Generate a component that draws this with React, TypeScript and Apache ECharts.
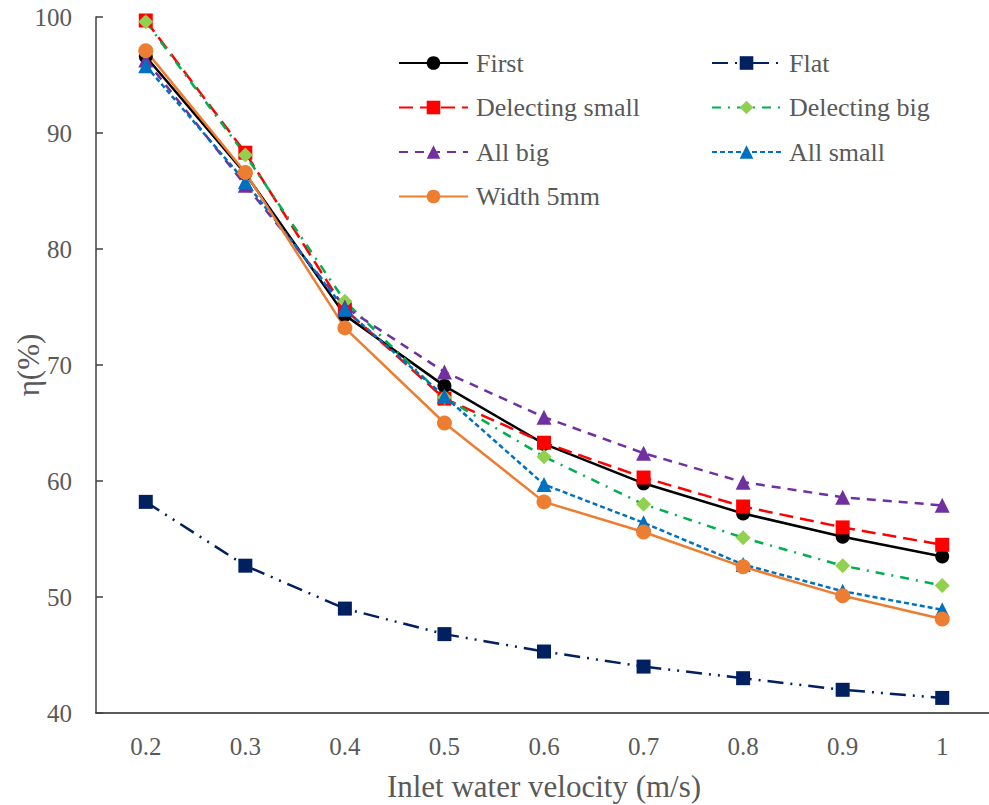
import React, { useEffect, useRef } from "react";
import * as echarts from "echarts";

const categories = ["0.2", "0.3", "0.4", "0.5", "0.6", "0.7", "0.8", "0.9", "1"];
const yTicks = [40, 50, 60, 70, 80, 90, 100];

const first = [96.6, 86.5, 74.3, 68.2, 63.2, 59.8, 57.2, 55.2, 53.5];
const flat = [58.2, 52.7, 49.0, 46.8, 45.3, 44.0, 43.0, 42.0, 41.3];
const delectingSmall = [99.7, 88.3, 74.8, 67.1, 63.3, 60.3, 57.8, 56.0, 54.5];
const delectingBig = [99.6, 88.1, 75.5, 67.2, 62.1, 58.0, 55.1, 52.7, 51.0];
const allBig = [96.3, 85.5, 75.0, 69.4, 65.5, 62.4, 59.9, 58.6, 57.9];
const allSmall = [95.8, 85.8, 74.8, 67.3, 59.7, 56.4, 52.8, 50.5, 48.9];
const width5mm = [97.1, 86.6, 73.2, 65.0, 58.2, 55.6, 52.6, 50.1, 48.1];

const FONT = "'Liberation Serif', 'Times New Roman', serif";
const TEXT = "#595959";

export default function App() {
  const ref = useRef<HTMLDivElement>(null);
  useEffect(() => {
    if (!ref.current) return;
    const chart = echarts.init(ref.current, undefined, { renderer: "svg" });
    const mk = (
      name: string,
      data: number[],
      color: string,
      markerColor: string,
      symbol: string,
      size: number,
      type: any
    ) => ({
      name,
      type: "line",
      data,
      symbol,
      symbolSize: size,
      showSymbol: true,
      lineStyle: { color, width: 2.5, type, cap: "butt" },
      itemStyle: { color: markerColor, borderWidth: 0 },
      emphasis: { disabled: true },
    });
    const legendText = { fontFamily: FONT, fontSize: 26, color: TEXT, lineHeight: 26, padding: [0, 0, 0, 3] };
    chart.setOption({
      animation: false,
      backgroundColor: "#ffffff",
      textStyle: { fontFamily: FONT },
      grid: { left: 96, top: 17, width: 896, height: 696, containLabel: false, outerBoundsMode: "none" },
      legend: [
        {
          data: ["First", "Delecting small", "All big", "Width 5mm"],
          orient: "vertical",
          left: 393,
          top: 45,
          padding: 5,
          itemWidth: 69,
          itemHeight: 17,
          itemGap: 18.5,
          textStyle: legendText,
          selectedMode: false,
        },
        {
          data: ["Flat", "Delecting big", "All small"],
          orient: "vertical",
          left: 706,
          top: 45,
          padding: 5,
          itemWidth: 69,
          itemHeight: 17,
          itemGap: 18.5,
          textStyle: legendText,
          selectedMode: false,
        },
      ],
      xAxis: {
        type: "category",
        data: categories,
        boundaryGap: true,
        name: "Inlet water velocity (m/s)",
        nameLocation: "middle",
        nameGap: 58,
        nameMoveOverlap: false,
        nameTextStyle: { fontFamily: FONT, fontSize: 31, color: TEXT },
        axisLine: { lineStyle: { color: "#262626", width: 1.5 } },
        axisTick: { inside: true, length: 7, lineStyle: { color: "#262626", width: 1.5 } },
        axisLabel: { fontFamily: FONT, fontSize: 25, color: TEXT, margin: 21 },
        splitLine: { show: false },
      },
      yAxis: {
        type: "value",
        min: yTicks[0],
        max: yTicks[yTicks.length - 1],
        interval: 10,
        name: "η(%)",
        nameLocation: "middle",
        nameGap: 52,
        nameMoveOverlap: false,
        nameRotate: 90,
        nameTextStyle: { fontFamily: FONT, fontSize: 31, color: TEXT },
        axisLine: { show: true, lineStyle: { color: "#404040", width: 1.5 } },
        axisTick: { show: true, inside: true, length: 7, lineStyle: { color: "#404040", width: 1.5 } },
        axisLabel: { fontFamily: FONT, fontSize: 25, color: TEXT, margin: 24 },
        splitLine: { show: false },
      },
      series: [
        mk("First", first, "#000000", "#000000", "circle", 14, "solid"),
        mk("Flat", flat, "#002060", "#002060", "rect", 14, [16, 7, 2, 7, 2, 7]),
        mk("Delecting small", delectingSmall, "#FF0000", "#FF0000", "rect", 14, [14, 7]),
        mk("Delecting big", delectingBig, "#00B050", "#92D050", "diamond", 15, [9, 7, 2, 7]),
        mk("All big", allBig, "#7030A0", "#7030A0", "triangle", 15, [9, 7]),
        mk("All small", allSmall, "#0070C0", "#0070C0", "triangle", 15, [5, 3]),
        mk("Width 5mm", width5mm, "#ED7D31", "#ED7D31", "circle", 15, "solid"),
      ],
    });
    return () => chart.dispose();
  }, []);
  return <div ref={ref} style={{ position: "absolute", left: 0, top: 0, width: 989, height: 805 }} />;
}
